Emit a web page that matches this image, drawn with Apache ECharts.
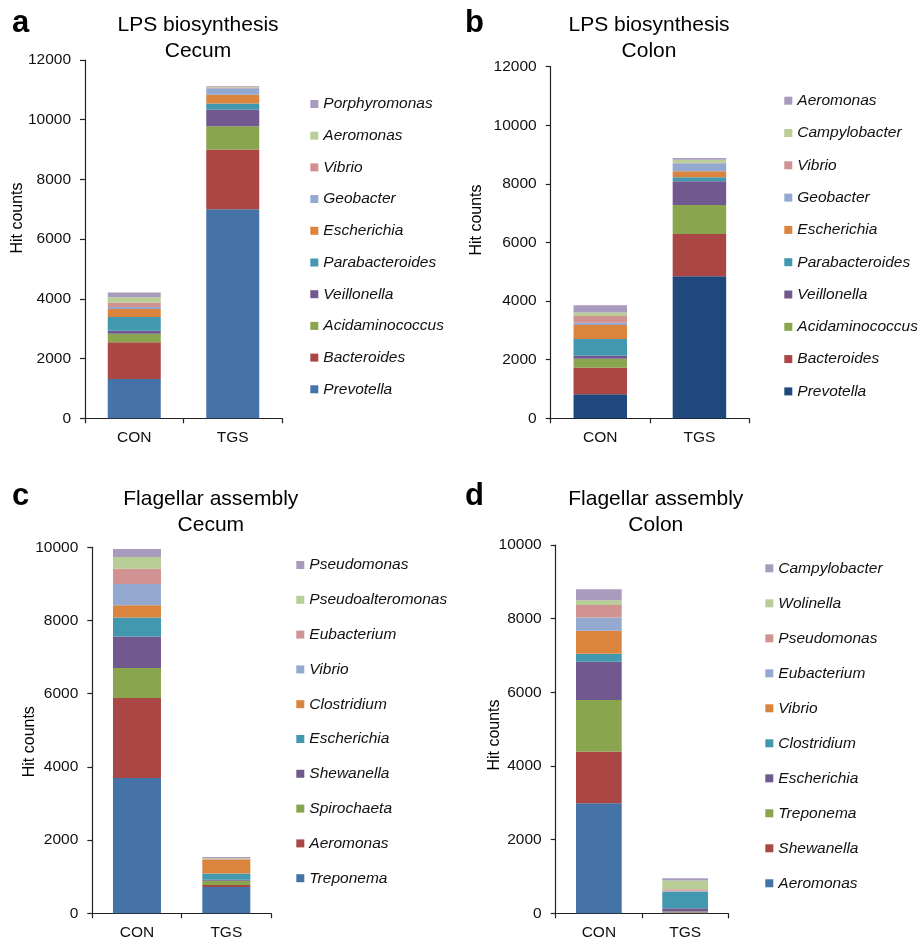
<!DOCTYPE html>
<html>
<head>
<meta charset="utf-8">
<script src="https://cdn.jsdelivr.net/npm/echarts@6/dist/echarts.min.js"></script>
<style>
  html, body { margin: 0; padding: 0; background: #fff; }
  .panel { position: absolute; }
</style>
</head>
<body>
<div id="pa" class="panel" style="left:0;top:0;width:460px;height:470px"></div>
<div id="pb" class="panel" style="left:460px;top:0;width:462px;height:470px"></div>
<div id="pc" class="panel" style="left:0;top:470px;width:460px;height:472px"></div>
<div id="pd" class="panel" style="left:460px;top:470px;width:462px;height:472px"></div>
<script>
// ---------- DATA ----------
const categories = ['CON', 'TGS'];

// Panel a: LPS biosynthesis, Cecum (bottom -> top of stack)
const lpsCecumGenera = ['Prevotella', 'Bacteroides', 'Acidaminococcus', 'Veillonella', 'Parabacteroides', 'Escherichia', 'Geobacter', 'Vibrio', 'Aeromonas', 'Porphyromonas'];
const lpsCecumCON = [1320, 1230, 280, 100, 460, 270, 70, 150, 170, 160];
const lpsCecumTGS = [7000, 2000, 780, 550, 210, 300, 215, 20, 20, 30];
const lpsCecumTicks = [0, 2000, 4000, 6000, 8000, 10000, 12000];

// Panel b: LPS biosynthesis, Colon
const lpsColonGenera = ['Prevotella', 'Bacteroides', 'Acidaminococcus', 'Veillonella', 'Parabacteroides', 'Escherichia', 'Geobacter', 'Vibrio', 'Campylobacter', 'Aeromonas'];
const lpsColonCON = [820, 910, 305, 100, 570, 480, 80, 230, 115, 250];
const lpsColonTGS = [4850, 1440, 990, 810, 135, 205, 275, 20, 100, 55];
const lpsColonTicks = [0, 2000, 4000, 6000, 8000, 10000, 12000];

// Panel c: Flagellar assembly, Cecum
const flaCecumGenera = ['Treponema', 'Aeromonas', 'Spirochaeta', 'Shewanella', 'Escherichia', 'Clostridium', 'Vibrio', 'Eubacterium', 'Pseudoalteromonas', 'Pseudomonas'];
const flaCecumCON = [3700, 2180, 820, 865, 520, 330, 580, 420, 320, 220];
const flaCecumTGS = [720, 50, 120, 30, 170, 380, 10, 10, 20, 30];
const flaCecumTicks = [0, 2000, 4000, 6000, 8000, 10000];

// Panel d: Flagellar assembly, Colon
const flaColonGenera = ['Aeromonas', 'Shewanella', 'Treponema', 'Escherichia', 'Clostridium', 'Vibrio', 'Eubacterium', 'Pseudomonas', 'Wolinella', 'Campylobacter'];
const flaColonCON = [2990, 1400, 1400, 1040, 220, 620, 360, 340, 130, 300];
const flaColonTGS = [15, 15, 20, 85, 450, 10, 15, 45, 235, 60];
const flaColonTicks = [0, 2000, 4000, 6000, 8000, 10000];

// ---------- STYLE ----------
const paletteStd = ['#4572A7', '#AA4643', '#89A54E', '#71588F', '#4198AF', '#DB843D', '#93A9CF', '#D19392', '#B9CD96', '#A99BBD'];
const paletteB   = ['#1F497D', '#AA4643', '#89A54E', '#71588F', '#4198AF', '#DB843D', '#93A9CF', '#D19392', '#B9CD96', '#A99BBD'];
const FONT = '"Liberation Sans", Arial, Helvetica, sans-serif';
const TXT = '#111';

function makePanel(id, cfg) {
  const chart = echarts.init(document.getElementById(id), null, { renderer: 'canvas' });
  const ticks = cfg.ticks;
  const series = cfg.genera.map((g, i) => ({
    name: g,
    type: 'bar',
    stack: 'total',
    barWidth: cfg.barWidth,
    itemStyle: { color: cfg.palette[i] },
    emphasis: { disabled: true },
    data: [cfg.con[i], cfg.tgs[i]]
  }));
  const legendData = cfg.genera.slice().reverse();
  chart.setOption({
    animation: false,
    textStyle: { fontFamily: FONT },
    grid: { left: cfg.grid[0], top: cfg.grid[1], width: cfg.grid[2], height: cfg.grid[3], containLabel: false },
    xAxis: {
      type: 'category',
      data: categories,
      boundaryGap: true,
      axisLine: { lineStyle: { color: '#222', width: 1.2 } },
      axisTick: { show: true, length: 5, inside: false, lineStyle: { color: '#222', width: 1.2 } },
      axisLabel: { color: TXT, fontSize: 15.5, fontFamily: FONT, margin: 11 }
    },
    yAxis: {
      type: 'value',
      min: ticks[0],
      max: ticks[ticks.length - 1],
      interval: ticks[1] - ticks[0],
      splitLine: { show: false },
      axisLine: { show: true, lineStyle: { color: '#222', width: 1.2 } },
      axisTick: { show: true, length: 5, inside: false, lineStyle: { color: '#222', width: 1.2 } },
      axisLabel: { color: TXT, fontSize: 15.5, fontFamily: FONT, margin: 14, formatter: v => String(v) }
    },
    legend: {
      orient: 'vertical',
      left: cfg.legend[0],
      top: cfg.legend[1],
      padding: 0,
      itemGap: cfg.legend[2],
      itemWidth: 8,
      itemHeight: 8,
      icon: 'rect',
      selectedMode: false,
      data: legendData,
      textStyle: { color: TXT, fontSize: 15.5, fontStyle: 'italic', fontFamily: FONT, lineHeight: 18 }
    },
    graphic: [
      { type: 'text', left: cfg.letter[0], top: cfg.letter[1],
        style: { text: cfg.letterText, font: 'bold 31px ' + FONT, fill: '#000' } },
      { type: 'text', x: cfg.title[0], y: cfg.title[1],
        style: { text: cfg.title1, font: '21px ' + FONT, fill: '#000', textAlign: 'center', textVerticalAlign: 'middle' } },
      { type: 'text', x: cfg.title[0], y: cfg.title[2],
        style: { text: cfg.title2, font: '21px ' + FONT, fill: '#000', textAlign: 'center', textVerticalAlign: 'middle' } },
      { type: 'text', x: cfg.ylab[0], y: cfg.ylab[1], rotation: Math.PI / 2,
        style: { text: 'Hit counts', font: '16px ' + FONT, fill: '#000', textAlign: 'center', textVerticalAlign: 'middle' } }
    ],
    series: series
  });
}

makePanel('pa', {
  genera: lpsCecumGenera, con: lpsCecumCON, tgs: lpsCecumTGS, ticks: lpsCecumTicks,
  palette: paletteStd, barWidth: 53,
  grid: [85, 60, 197, 358.3],
  legend: [310.3, 95, 13.7],
  letterText: 'a', letter: [12, 8],
  title1: 'LPS biosynthesis', title2: 'Cecum', title: [198, 25, 51],
  ylab: [18, 218]
});
makePanel('pb', {
  genera: lpsColonGenera, con: lpsColonCON, tgs: lpsColonTGS, ticks: lpsColonTicks,
  palette: paletteB, barWidth: 53.5,
  grid: [90.7, 66.7, 198.3, 351.6],
  legend: [324.3, 91.7, 14.3],
  letterText: 'b', letter: [5, 8],
  title1: 'LPS biosynthesis', title2: 'Colon', title: [189, 25, 51],
  ylab: [16.7, 220]
});
makePanel('pc', {
  genera: flaCecumGenera, con: flaCecumCON, tgs: flaCecumTGS, ticks: flaCecumTicks,
  palette: paletteStd, barWidth: 48,
  grid: [92.3, 77.3, 178.7, 366],
  legend: [296.3, 86, 16.8],
  letterText: 'c', letter: [12, 11],
  title1: 'Flagellar assembly', title2: 'Cecum', title: [210.8, 29.4, 55.4],
  ylab: [30, 271.7]
});
makePanel('pd', {
  genera: flaColonGenera, con: flaColonCON, tgs: flaColonTGS, ticks: flaColonTicks,
  palette: paletteStd, barWidth: 45.7,
  grid: [95.7, 75, 172.6, 368.3],
  legend: [305.3, 89.3, 17],
  letterText: 'd', letter: [5, 11],
  title1: 'Flagellar assembly', title2: 'Colon', title: [195.8, 29.4, 55.4],
  ylab: [35, 265]
});
</script>
</body>
</html>
